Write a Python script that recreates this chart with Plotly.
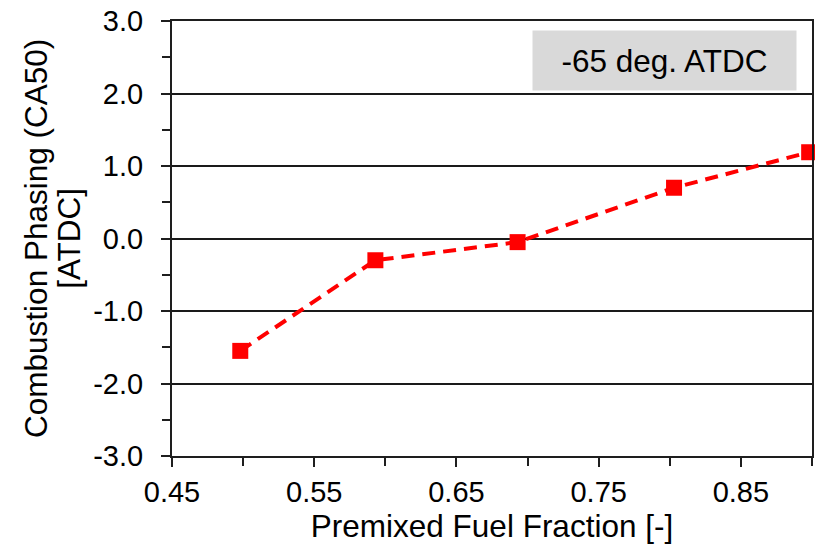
import plotly.graph_objects as go

# Combustion phasing versus premixed fuel fraction at -65 deg. ATDC injection
premixed_fraction = [0.498, 0.593, 0.693, 0.803, 0.898]
ca50 = [-1.55, -0.30, -0.05, 0.70, 1.19]

x_tick_vals = [0.45, 0.55, 0.65, 0.75, 0.85]
x_tick_text = ["0.45", "0.55", "0.65", "0.75", "0.85"]
y_tick_vals = [-3, -2, -1, 0, 1, 2, 3]
y_tick_text = ["-3.0", "-2.0", "-1.0", "0.0", "1.0", "2.0", "3.0"]

FONT = "Liberation Sans, Arial, sans-serif"
W, H = 815, 551
ML, MR, MT, MB = 172, 1, 21, 95
plot_w = W - ML - MR

def px_to_paper_x(px):
    return (px - ML) / plot_w

fig = go.Figure()
fig.add_trace(go.Scatter(
    x=premixed_fraction,
    y=ca50,
    mode="lines+markers",
    line=dict(color="#ff0000", width=4, dash="13px,8px"),
    marker=dict(symbol="square", size=16, color="#ff0000"),
    cliponaxis=False,
    showlegend=False,
))

axis_common = dict(
    showline=True,
    linecolor="#1e1e1e",
    linewidth=2,
    mirror=True,
    ticks="outside",
    ticklen=9,
    tickwidth=1.5,
    tickcolor="#1e1e1e",
    tickfont=dict(family=FONT, size=29, color="#000000"),
    zeroline=False,
)

fig.update_xaxes(
    range=[0.45, 0.90],
    tickvals=x_tick_vals,
    ticktext=x_tick_text,
    showgrid=False,
    minor=dict(dtick=0.05, tick0=0.45, ticks="outside", ticklen=8,
               tickwidth=1.5, tickcolor="#1e1e1e", showgrid=False),
    title=dict(text="Premixed Fuel Fraction [-]",
               font=dict(family=FONT, size=31.5, color="#000000"),
               standoff=8),
    **axis_common,
)

fig.update_yaxes(
    range=[-3, 3],
    tickvals=y_tick_vals,
    ticktext=y_tick_text,
    showgrid=True,
    gridcolor="#1a1a1a",
    gridwidth=1.5,
    minor=dict(dtick=0.5, tick0=-3, ticks="outside", ticklen=8,
               tickwidth=1.5, tickcolor="#1e1e1e", showgrid=False),
    ticklabelstandoff=12,
    **axis_common,
)

# Two-line vertical axis title
fig.add_annotation(
    text="Combustion Phasing (CA50)",
    textangle=-90,
    xref="paper", yref="paper",
    x=px_to_paper_x(35), y=0.5,
    xanchor="center", yanchor="middle",
    showarrow=False,
    font=dict(family=FONT, size=31.5, color="#000000"),
)
fig.add_annotation(
    text="[ATDC]",
    textangle=-90,
    xref="paper", yref="paper",
    x=px_to_paper_x(68), y=0.5,
    xanchor="center", yanchor="middle",
    showarrow=False,
    font=dict(family=FONT, size=31.5, color="#000000"),
)

# Condition label box
fig.add_annotation(
    text="-65 deg. ATDC",
    xref="paper", yref="paper",
    x=px_to_paper_x(666.5), y=1 - (60.5 - MT) / (H - MT - MB),
    xanchor="center", yanchor="middle",
    showarrow=False,
    width=261, height=57,
    bgcolor="#d9d9d9",
    borderpad=1,
    font=dict(family=FONT, size=31.5, color="#000000"),
)

fig.update_layout(
    width=W, height=H,
    margin=dict(l=ML, r=MR, t=MT, b=MB, pad=0),
    paper_bgcolor="#ffffff",
    plot_bgcolor="#ffffff",
)

fig.write_html("out.html")
